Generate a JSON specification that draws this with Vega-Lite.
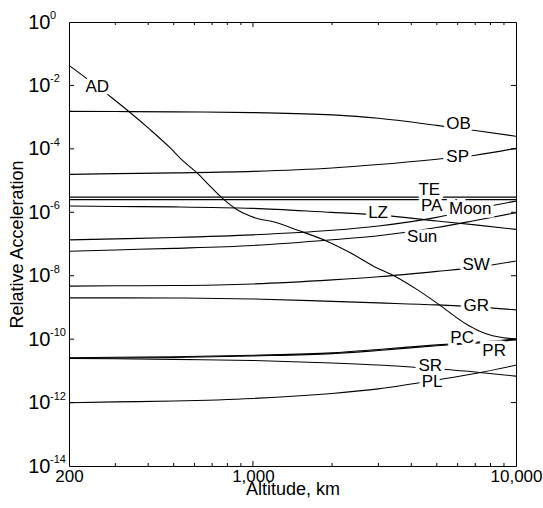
{
  "$schema": "https://vega.github.io/schema/vega-lite/v6.json",
  "width": 447,
  "height": 444,
  "autosize": {"type": "none"},
  "padding": {"left": 69, "top": 22, "right": 27, "bottom": 42},
  "background": "white",
  "config": {
    "view": {"stroke": "black", "strokeWidth": 1},
    "font": "Liberation Sans",
    "axis": {"labelFont": "Liberation Sans", "titleFont": "Liberation Sans", "labelColor": "black", "titleColor": "black", "titleFontWeight": "normal", "grid": false, "domain": false, "ticks": false}
  },
  "datasets": {
    "lines": [
      {"s": "AD", "x": 200, "y": 0.043}, {"s": "AD", "x": 291, "y": 0.0041}, {"s": "AD", "x": 336, "y": 0.00156}, {"s": "AD", "x": 406, "y": 0.00041}, {"s": "AD", "x": 484, "y": 0.000109}, {"s": "AD", "x": 544, "y": 4.1e-5}, {"s": "AD", "x": 612, "y": 1.77e-5}, {"s": "AD", "x": 687, "y": 6.7e-6}, {"s": "AD", "x": 761, "y": 2.9e-6}, {"s": "AD", "x": 868, "y": 1.23e-6}, {"s": "AD", "x": 976, "y": 7.6e-7}, {"s": "AD", "x": 1065, "y": 6.0e-7}, {"s": "AD", "x": 1163, "y": 5.3e-7}, {"s": "AD", "x": 1512, "y": 2.55e-7}, {"s": "AD", "x": 1910, "y": 1.23e-7}, {"s": "AD", "x": 2346, "y": 5.3e-8}, {"s": "AD", "x": 2872, "y": 2.0e-8}, {"s": "AD", "x": 3421, "y": 1.02e-8}, {"s": "AD", "x": 4200, "y": 3.7e-9}, {"s": "AD", "x": 5147, "y": 1.16e-9}, {"s": "AD", "x": 6505, "y": 2.9e-10}, {"s": "AD", "x": 7518, "y": 1.59e-10}, {"s": "AD", "x": 8962, "y": 1.1e-10}, {"s": "AD", "x": 10000, "y": 1.01e-10},
      {"s": "OB", "x": 200, "y": 1.52e-3}, {"s": "OB", "x": 300, "y": 1.5e-3}, {"s": "OB", "x": 500, "y": 1.47e-3}, {"s": "OB", "x": 1000, "y": 1.39e-3}, {"s": "OB", "x": 2000, "y": 1.18e-3}, {"s": "OB", "x": 3000, "y": 9.2e-4}, {"s": "OB", "x": 5000, "y": 5.5e-4}, {"s": "OB", "x": 7000, "y": 3.8e-4}, {"s": "OB", "x": 10000, "y": 2.5e-4},
      {"s": "SP", "x": 200, "y": 1.57e-5}, {"s": "SP", "x": 300, "y": 1.65e-5}, {"s": "SP", "x": 500, "y": 1.75e-5}, {"s": "SP", "x": 1000, "y": 1.95e-5}, {"s": "SP", "x": 2000, "y": 2.5e-5}, {"s": "SP", "x": 3000, "y": 3.2e-5}, {"s": "SP", "x": 5000, "y": 4.7e-5}, {"s": "SP", "x": 7000, "y": 6.3e-5}, {"s": "SP", "x": 10000, "y": 1.04e-4},
      {"s": "TE", "x": 200, "y": 3.0e-6}, {"s": "TE", "x": 10000, "y": 3.0e-6},
      {"s": "PA", "x": 200, "y": 2.5e-6}, {"s": "PA", "x": 10000, "y": 2.5e-6},
      {"s": "LZ", "x": 200, "y": 1.57e-6}, {"s": "LZ", "x": 300, "y": 1.52e-6}, {"s": "LZ", "x": 500, "y": 1.48e-6}, {"s": "LZ", "x": 1000, "y": 1.33e-6}, {"s": "LZ", "x": 2000, "y": 9.9e-7}, {"s": "LZ", "x": 3000, "y": 8.3e-7}, {"s": "LZ", "x": 5000, "y": 5.3e-7}, {"s": "LZ", "x": 7000, "y": 4.0e-7}, {"s": "LZ", "x": 10000, "y": 2.9e-7},
      {"s": "Moon", "x": 200, "y": 1.35e-7}, {"s": "Moon", "x": 300, "y": 1.45e-7}, {"s": "Moon", "x": 500, "y": 1.6e-7}, {"s": "Moon", "x": 1000, "y": 1.94e-7}, {"s": "Moon", "x": 2000, "y": 2.7e-7}, {"s": "Moon", "x": 3000, "y": 3.7e-7}, {"s": "Moon", "x": 5000, "y": 6.9e-7}, {"s": "Moon", "x": 7000, "y": 1.28e-6}, {"s": "Moon", "x": 10000, "y": 2.25e-6},
      {"s": "Sun", "x": 200, "y": 5.9e-8}, {"s": "Sun", "x": 300, "y": 6.5e-8}, {"s": "Sun", "x": 500, "y": 7.3e-8}, {"s": "Sun", "x": 1000, "y": 9.0e-8}, {"s": "Sun", "x": 2000, "y": 1.36e-7}, {"s": "Sun", "x": 3000, "y": 1.83e-7}, {"s": "Sun", "x": 5000, "y": 3.3e-7}, {"s": "Sun", "x": 7000, "y": 5.5e-7}, {"s": "Sun", "x": 10000, "y": 9.7e-7},
      {"s": "SW", "x": 200, "y": 4.7e-9}, {"s": "SW", "x": 300, "y": 4.8e-9}, {"s": "SW", "x": 500, "y": 4.9e-9}, {"s": "SW", "x": 1000, "y": 5.5e-9}, {"s": "SW", "x": 2000, "y": 7.4e-9}, {"s": "SW", "x": 3000, "y": 9.3e-9}, {"s": "SW", "x": 5000, "y": 1.37e-8}, {"s": "SW", "x": 7000, "y": 1.83e-8}, {"s": "SW", "x": 10000, "y": 2.9e-8},
      {"s": "GR", "x": 200, "y": 2.0e-9}, {"s": "GR", "x": 300, "y": 2.0e-9}, {"s": "GR", "x": 500, "y": 1.98e-9}, {"s": "GR", "x": 1000, "y": 1.85e-9}, {"s": "GR", "x": 2000, "y": 1.55e-9}, {"s": "GR", "x": 3000, "y": 1.39e-9}, {"s": "GR", "x": 5000, "y": 1.2e-9}, {"s": "GR", "x": 7000, "y": 1.04e-9}, {"s": "GR", "x": 10000, "y": 8.4e-10},
      {"s": "PC", "x": 200, "y": 2.6e-11}, {"s": "PC", "x": 300, "y": 2.7e-11}, {"s": "PC", "x": 500, "y": 2.8e-11}, {"s": "PC", "x": 1000, "y": 3.1e-11}, {"s": "PC", "x": 2000, "y": 3.7e-11}, {"s": "PC", "x": 3000, "y": 4.7e-11}, {"s": "PC", "x": 5000, "y": 6.6e-11}, {"s": "PC", "x": 7000, "y": 7.9e-11}, {"s": "PC", "x": 10000, "y": 1.01e-10},
      {"s": "PR", "x": 200, "y": 2.5e-11}, {"s": "PR", "x": 300, "y": 2.55e-11}, {"s": "PR", "x": 500, "y": 2.65e-11}, {"s": "PR", "x": 1000, "y": 2.95e-11}, {"s": "PR", "x": 2000, "y": 3.5e-11}, {"s": "PR", "x": 3000, "y": 4.4e-11}, {"s": "PR", "x": 5000, "y": 6.2e-11}, {"s": "PR", "x": 7000, "y": 7.5e-11}, {"s": "PR", "x": 10000, "y": 9.5e-11},
      {"s": "SR", "x": 200, "y": 2.46e-11}, {"s": "SR", "x": 300, "y": 2.4e-11}, {"s": "SR", "x": 500, "y": 2.3e-11}, {"s": "SR", "x": 1000, "y": 2.13e-11}, {"s": "SR", "x": 2000, "y": 1.77e-11}, {"s": "SR", "x": 3000, "y": 1.53e-11}, {"s": "SR", "x": 5000, "y": 1.15e-11}, {"s": "SR", "x": 7000, "y": 9.2e-12}, {"s": "SR", "x": 10000, "y": 6.8e-12},
      {"s": "PL", "x": 200, "y": 9.9e-13}, {"s": "PL", "x": 300, "y": 1.05e-12}, {"s": "PL", "x": 500, "y": 1.12e-12}, {"s": "PL", "x": 1000, "y": 1.35e-12}, {"s": "PL", "x": 2000, "y": 1.94e-12}, {"s": "PL", "x": 3000, "y": 2.7e-12}, {"s": "PL", "x": 5000, "y": 5.2e-12}, {"s": "PL", "x": 7000, "y": 8.3e-12}, {"s": "PL", "x": 10000, "y": 1.51e-11}
    ],
    "labels": [
      {"t": "AD", "x": 256, "y": 8.7e-3},
      {"t": "OB", "x": 6050, "y": 5.9e-4},
      {"t": "SP", "x": 6000, "y": 5.4e-5},
      {"t": "TE", "x": 4680, "y": 4.9e-6},
      {"t": "PA", "x": 4780, "y": 1.53e-6},
      {"t": "LZ", "x": 2990, "y": 9.2e-7},
      {"t": "Moon", "x": 6700, "y": 1.23e-6},
      {"t": "Sun", "x": 4400, "y": 1.62e-7},
      {"t": "SW", "x": 7060, "y": 2.1e-8},
      {"t": "GR", "x": 7060, "y": 1.08e-9},
      {"t": "PC", "x": 6240, "y": 1.05e-10},
      {"t": "PR", "x": 8260, "y": 4.1e-11},
      {"t": "SR", "x": 4720, "y": 1.38e-11},
      {"t": "PL", "x": 4800, "y": 4.3e-12}
    ],
    "exponents": [
      {"e": "0", "v": 1},
      {"e": "-2", "v": 1e-2},
      {"e": "-4", "v": 1e-4},
      {"e": "-6", "v": 1e-6},
      {"e": "-8", "v": 1e-8},
      {"e": "-10", "v": 1e-10},
      {"e": "-12", "v": 1e-12},
      {"e": "-14", "v": 1e-14}
    ],
    "xticks": [
      {"v": 300, "m": 0}, {"v": 400, "m": 0}, {"v": 500, "m": 0}, {"v": 600, "m": 0}, {"v": 700, "m": 0}, {"v": 800, "m": 0}, {"v": 900, "m": 0},
      {"v": 1000, "m": 1},
      {"v": 2000, "m": 0}, {"v": 3000, "m": 0}, {"v": 4000, "m": 0}, {"v": 5000, "m": 0}, {"v": 6000, "m": 0}, {"v": 7000, "m": 0}, {"v": 8000, "m": 0}, {"v": 9000, "m": 0}
    ],
    "yticks": [
      {"v": 1e-2}, {"v": 1e-4}, {"v": 1e-6}, {"v": 1e-8}, {"v": 1e-10}, {"v": 1e-12}
    ]
  },
  "layer": [
    {
      "data": {"name": "lines"},
      "mark": {"type": "line", "color": "black", "strokeWidth": 1.1, "interpolate": "monotone", "clip": true},
      "encoding": {
        "x": {"field": "x", "type": "quantitative",
          "scale": {"type": "log", "domain": [200, 10000], "nice": false},
          "axis": {"orient": "bottom", "title": "Altitude, km", "titleFontSize": 18, "titlePadding": -4,
            "values": [200, 1000, 10000],
            "labelExpr": "format(datum.value, ',')",
            "labelFontSize": 17, "labelOverlap": false, "labelFlush": false, "labelBound": false, "labelPadding": 2}},
        "y": {"field": "y", "type": "quantitative",
          "scale": {"type": "log", "domain": [1e-14, 1], "nice": false},
          "axis": {"orient": "left", "title": "Relative Acceleration", "titleFontSize": 18, "titlePadding": 1,
            "values": [1, 1e-2, 1e-4, 1e-6, 1e-8, 1e-10, 1e-12, 1e-14],
            "labelExpr": "'10'",
            "labelFontSize": 20, "labelOverlap": false, "labelFlush": false, "labelBound": false, "labelPadding": 19}},
        "detail": {"field": "s"}
      }
    },
    {
      "data": {"name": "xticks"},
      "mark": {"type": "tick", "orient": "vertical", "color": "black", "thickness": 1, "clip": true, "opacity": 1},
      "encoding": {
        "x": {"field": "v", "type": "quantitative"},
        "y": {"datum": 1e-14, "type": "quantitative"},
        "size": {"condition": {"test": "datum.m == 1", "value": 10}, "value": 6}
      }
    },
    {
      "data": {"name": "xticks"},
      "mark": {"type": "tick", "orient": "vertical", "color": "black", "thickness": 1, "clip": true, "opacity": 1},
      "encoding": {
        "x": {"field": "v", "type": "quantitative"},
        "y": {"datum": 1, "type": "quantitative"},
        "size": {"condition": {"test": "datum.m == 1", "value": 10}, "value": 6}
      }
    },
    {
      "data": {"name": "yticks"},
      "mark": {"type": "tick", "orient": "horizontal", "color": "black", "thickness": 1, "clip": true, "opacity": 1, "size": 10},
      "encoding": {
        "x": {"datum": 200, "type": "quantitative"},
        "y": {"field": "v", "type": "quantitative"}
      }
    },
    {
      "data": {"name": "yticks"},
      "mark": {"type": "tick", "orient": "horizontal", "color": "black", "thickness": 1, "clip": true, "opacity": 1, "size": 10},
      "encoding": {
        "x": {"datum": 10000, "type": "quantitative"},
        "y": {"field": "v", "type": "quantitative"}
      }
    },
    {
      "data": {"name": "labels"},
      "mark": {"type": "text", "fontSize": 17, "stroke": "white", "strokeWidth": 7, "fill": "white", "align": "center", "baseline": "middle"},
      "encoding": {
        "x": {"field": "x", "type": "quantitative"},
        "y": {"field": "y", "type": "quantitative"},
        "text": {"field": "t"}
      }
    },
    {
      "data": {"name": "labels"},
      "mark": {"type": "text", "fontSize": 17, "color": "black", "align": "center", "baseline": "middle"},
      "encoding": {
        "x": {"field": "x", "type": "quantitative"},
        "y": {"field": "y", "type": "quantitative"},
        "text": {"field": "t"}
      }
    },
    {
      "data": {"name": "exponents"},
      "mark": {"type": "text", "fontSize": 11, "color": "black", "align": "left", "baseline": "middle", "dx": -19, "dy": -6},
      "encoding": {
        "x": {"datum": 200, "type": "quantitative"},
        "y": {"field": "v", "type": "quantitative"},
        "text": {"field": "e"}
      }
    }
  ]
}
